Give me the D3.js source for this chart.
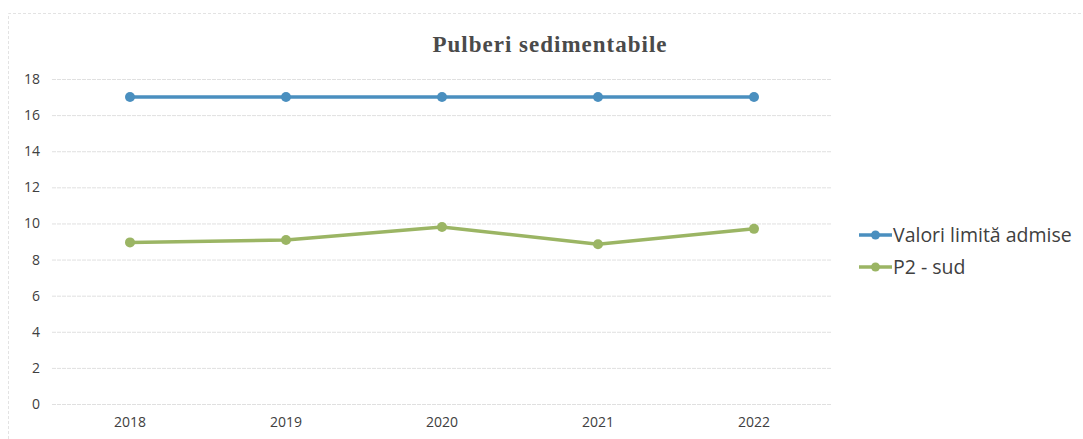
<!DOCTYPE html>
<html><head><meta charset="utf-8">
<script src="https://cdn.jsdelivr.net/npm/d3@7"></script>
<style>body{margin:0;background:#fff}svg{display:block}</style>
</head><body><svg id="c" width="1083" height="439"></svg>
<script>
const years = ["2018","2019","2020","2021","2022"];
const limitValues = [17, 17, 17, 17, 17];
const p2Values = [8.95, 9.08, 9.8, 8.85, 9.7];
const yTicks = [0,2,4,6,8,10,12,14,16,18];
const seriesNames = ["Valori limită admise", "P2 - sud"];
const colors = ["#4a8fbf", "#9bb564"];

const svg = d3.select("#c");
// frame
svg.append("path").attr("d","M8.5,439 V13.5 H1083").attr("fill","none").attr("stroke","#e3e3e3").attr("stroke-dasharray","3,2");

const x = d3.scaleBand().domain(years).range([52, 832]);
const y = d3.scaleLinear().domain([0,18]).range([404, 79]);

svg.append("text").attr("x",550).attr("y",52).attr("text-anchor","middle")
  .attr("font-family","Liberation Serif, serif").attr("font-weight","bold").attr("font-size",23)
  .attr("fill","#4a4a4a").attr("letter-spacing","1").text("Pulberi sedimentabile");

const gy = svg.append("g").attr("transform","translate(52,0)")
  .call(d3.axisLeft(y).tickValues(yTicks).tickSize(-780).tickPadding(12));
gy.select(".domain").remove();
gy.selectAll(".tick line").attr("stroke","#e0e0e0").attr("stroke-dasharray","4,1");
gy.selectAll(".tick text").attr("font-family","Open Sans, sans-serif").attr("font-size",14).attr("fill","#404040");

const gx = svg.append("g").attr("transform","translate(0,404)")
  .call(d3.axisBottom(x).tickSize(0).tickPadding(13));
gx.select(".domain").remove();
gx.selectAll(".tick text").attr("font-family","Open Sans, sans-serif").attr("font-size",14).attr("fill","#404040");

const series = [limitValues, p2Values];
const line = d3.line().x((d,i)=>x(years[i])+x.bandwidth()/2).y(d=>y(d));
series.forEach((vals,k)=>{
  svg.append("path").datum(vals).attr("d",line).attr("fill","none")
    .attr("stroke",colors[k]).attr("stroke-width",3.5);
  svg.selectAll(null).data(vals).enter().append("circle")
    .attr("cx",(d,i)=>x(years[i])+x.bandwidth()/2).attr("cy",d=>y(d))
    .attr("r",5).attr("fill",colors[k]);
});

// legend
const lg = svg.append("g");
seriesNames.forEach((n,k)=>{
  const ly = 235 + k*32;
  lg.append("line").attr("x1",859).attr("x2",892).attr("y1",ly).attr("y2",ly).attr("stroke",colors[k]).attr("stroke-width",3.5);
  lg.append("circle").attr("cx",875.5).attr("cy",ly).attr("r",4.5).attr("fill",colors[k]);
  lg.append("text").attr("x",893).attr("y",ly+7).attr("font-family","Open Sans, sans-serif")
    .attr("font-size",19.5).attr("fill","#404040").text(n);
});
</script></body></html>
